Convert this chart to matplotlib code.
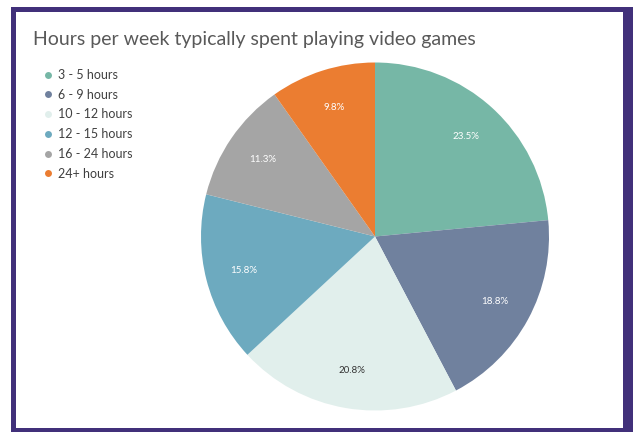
import matplotlib.pyplot as plt
from matplotlib.lines import Line2D
from matplotlib.patches import Rectangle

plt.rcParams['font.family'] = ['Lato', 'DejaVu Sans']

categories = ['3 - 5 hours', '6 - 9 hours', '10 - 12 hours',
              '12 - 15 hours', '16 - 24 hours', '24+ hours']
shares = [23.5, 18.8, 20.8, 15.8, 11.3, 9.8]
colors = ['#76B7A6', '#70819E', '#E1EFEC', '#6DAABF', '#A5A5A5', '#EB7D31']
label_colors = ['white', 'white', '#333333', 'white', 'white', 'white']

W, H = 641, 432
fig = plt.figure(figsize=(W / 100, H / 100), dpi=100)
fig.patch.set_facecolor('white')

# purple frame: filled outer box with a white inner panel
fig.patches.append(Rectangle((11 / W, 0), (633 - 11) / W, (H - 7) / H,
                             transform=fig.transFigure, facecolor='#41307A',
                             edgecolor='none', zorder=-2))
fig.patches.append(Rectangle((16 / W, 4 / H), (623 - 16) / W, (H - 12 - 4) / H,
                             transform=fig.transFigure, facecolor='white',
                             edgecolor='none', zorder=-1))

fig.text(33 / W, 1 - 39 / H, 'Hours per week typically spent playing video games',
         fontsize=14, color='#595959', va='center', ha='left')

# pie: centre (375, 236.5) px, radius 174 px
r = 174
cx, cy = 375, 236.5
ax = fig.add_axes([(cx - r) / W, (H - cy - r) / H, 2 * r / W, 2 * r / H])
ax.set_zorder(1)
wedges, texts, autotexts = ax.pie(shares, colors=colors, startangle=90,
                                  counterclock=False, autopct='%.1f%%',
                                  pctdistance=0.78, radius=1,
                                  wedgeprops=dict(linewidth=0),
                                  textprops=dict(fontsize=7))
for t, c in zip(autotexts, label_colors):
    t.set_color(c)
ax.set_xlim(-1, 1)
ax.set_ylim(-1, 1)
ax.set_aspect('equal')
ax.axis('off')

handles = [Line2D([], [], marker='o', linestyle='', markersize=5,
                  markerfacecolor=c, markeredgecolor='none') for c in colors]
leg = fig.legend(handles, categories, loc='upper left',
                 bbox_to_anchor=(44 / W, 1 - 69 / H), frameon=False,
                 fontsize=9, labelcolor='#404040', handlelength=0.6,
                 handletextpad=0.5, labelspacing=0.62, borderpad=0, borderaxespad=0)
leg.set_zorder(2)

fig.savefig('out.png', dpi=100)
